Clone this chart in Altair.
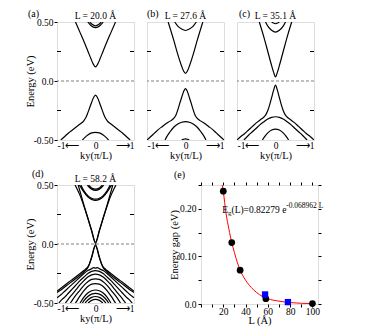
import altair as alt
import pandas as pd

SERIF = "Liberation Serif"

# ---------------- band-structure data (ky in pi/L, E in eV) ----------------
# (a) L = 20.0 A
A_CB1 = [(-0.52, 0.50), (-0.4, 0.41), (-0.3, 0.335), (-0.2, 0.255), (-0.12, 0.19), (-0.06, 0.145), (0.0, 0.12),
         (0.06, 0.145), (0.12, 0.19), (0.2, 0.255), (0.3, 0.335), (0.4, 0.41), (0.52, 0.50)]
A_CB2 = [(-0.2, 0.50), (-0.12, 0.47), (0.0, 0.452), (0.12, 0.47), (0.2, 0.50)]
A_CB3 = [(-0.15, 0.50), (-0.08, 0.478), (0.0, 0.468), (0.08, 0.478), (0.15, 0.50)]
A_VB1 = [(-0.9, -0.5), (-0.8, -0.47), (-0.7, -0.44), (-0.6, -0.415), (-0.5, -0.39), (-0.4, -0.365), (-0.3, -0.335),
         (-0.25, -0.31), (-0.2, -0.27), (-0.15, -0.225), (-0.1, -0.18), (-0.05, -0.14), (0.0, -0.12),
         (0.05, -0.14), (0.1, -0.18), (0.15, -0.225), (0.2, -0.27), (0.25, -0.31), (0.3, -0.335), (0.4, -0.365),
         (0.5, -0.39), (0.6, -0.415), (0.7, -0.44), (0.8, -0.47), (0.9, -0.5)]
A_VB2 = [(-0.34, -0.5), (-0.28, -0.48), (-0.2, -0.458), (-0.1, -0.44), (0.0, -0.435), (0.1, -0.44), (0.2, -0.458),
         (0.28, -0.48), (0.34, -0.5)]

# (b) L = 27.6 A
B_CB1 = [(-0.45, 0.50), (-0.3, 0.34), (-0.2, 0.225), (-0.1, 0.125), (-0.05, 0.085), (0.0, 0.065),
         (0.05, 0.085), (0.1, 0.125), (0.2, 0.225), (0.3, 0.34), (0.45, 0.50)]
B_CB2 = [(-0.28, 0.50), (-0.2, 0.465), (-0.1, 0.44), (0.0, 0.428), (0.1, 0.44), (0.2, 0.465), (0.28, 0.50)]
B_VB1 = [(-1.0, -0.5), (-0.9, -0.47), (-0.8, -0.44), (-0.7, -0.41), (-0.6, -0.385), (-0.5, -0.36), (-0.4, -0.34),
         (-0.3, -0.315), (-0.25, -0.29), (-0.2, -0.245), (-0.15, -0.19), (-0.1, -0.14), (-0.05, -0.09), (0.0, -0.065),
         (0.05, -0.09), (0.1, -0.14), (0.15, -0.19), (0.2, -0.245), (0.25, -0.29), (0.3, -0.315), (0.4, -0.34),
         (0.5, -0.36), (0.6, -0.385), (0.7, -0.41), (0.8, -0.44), (0.9, -0.47), (1.0, -0.5)]
B_VB2 = [(-0.53, -0.5), (-0.5, -0.48), (-0.4, -0.43), (-0.3, -0.39), (-0.2, -0.365), (-0.1, -0.35), (0.0, -0.345),
         (0.1, -0.35), (0.2, -0.365), (0.3, -0.39), (0.4, -0.43), (0.5, -0.48), (0.53, -0.5)]
B_VB3 = [(-0.1, -0.5), (-0.06, -0.495), (0.0, -0.49), (0.06, -0.495), (0.1, -0.5)]

# (c) L = 35.1 A
C_CB1 = [(-0.42, 0.50), (-0.3, 0.37), (-0.2, 0.25), (-0.1, 0.13), (-0.05, 0.075), (0.0, 0.035),
         (0.05, 0.075), (0.1, 0.13), (0.2, 0.25), (0.3, 0.37), (0.42, 0.50)]
C_CB2 = [(-0.26, 0.50), (-0.2, 0.465), (-0.1, 0.43), (0.0, 0.415), (0.1, 0.43), (0.2, 0.465), (0.26, 0.50)]
C_CB3 = [(-0.1, 0.50), (-0.06, 0.492), (0.0, 0.485), (0.06, 0.492), (0.1, 0.50)]
C_VB1 = [(-1.0, -0.5), (-0.9, -0.47), (-0.8, -0.445), (-0.7, -0.415), (-0.6, -0.385), (-0.5, -0.355), (-0.4, -0.33),
         (-0.3, -0.305), (-0.25, -0.285), (-0.2, -0.25), (-0.15, -0.2), (-0.1, -0.14), (-0.05, -0.08), (0.0, -0.035),
         (0.05, -0.08), (0.1, -0.14), (0.15, -0.2), (0.2, -0.25), (0.25, -0.285), (0.3, -0.305), (0.4, -0.33),
         (0.5, -0.355), (0.6, -0.385), (0.7, -0.415), (0.8, -0.445), (0.9, -0.47), (1.0, -0.5)]
C_VB2 = [(-0.82, -0.5), (-0.7, -0.46), (-0.6, -0.43), (-0.5, -0.4), (-0.4, -0.37), (-0.3, -0.345), (-0.2, -0.322),
         (-0.1, -0.308), (0.0, -0.303), (0.1, -0.308), (0.2, -0.322), (0.3, -0.345), (0.4, -0.37), (0.5, -0.4),
         (0.6, -0.43), (0.7, -0.46), (0.82, -0.5)]
C_VB3 = [(-0.34, -0.5), (-0.3, -0.48), (-0.2, -0.44), (-0.1, -0.415), (0.0, -0.407), (0.1, -0.415), (0.2, -0.44),
         (0.3, -0.48), (0.34, -0.5)]

# (d) L = 58.2 A
D_CB1 = [(-0.45, 0.50), (-0.3, 0.33), (-0.2, 0.22), (-0.1, 0.11), (0.0, 0.005), (0.1, 0.11), (0.2, 0.22),
         (0.3, 0.33), (0.45, 0.50)]
D_CB1B = [(-0.53, 0.50), (-0.5, 0.48), (-0.4, 0.41), (-0.3, 0.32), (-0.2, 0.22), (-0.1, 0.115), (0.0, 0.015),
          (0.1, 0.115), (0.2, 0.22), (0.3, 0.32), (0.4, 0.41), (0.5, 0.48), (0.53, 0.50)]
D_CB2 = [(-0.42, 0.50), (-0.4, 0.49), (-0.3, 0.44), (-0.2, 0.40), (-0.1, 0.378), (0.0, 0.37), (0.1, 0.378),
         (0.2, 0.40), (0.3, 0.44), (0.4, 0.49), (0.42, 0.50)]
D_CB2B = [(-0.38, 0.50), (-0.3, 0.45), (-0.2, 0.41), (-0.1, 0.388), (0.0, 0.38), (0.1, 0.388), (0.2, 0.41),
          (0.3, 0.45), (0.38, 0.50)]
D_CB3 = [(-0.21, 0.50), (-0.2, 0.495), (-0.1, 0.465), (0.0, 0.455), (0.1, 0.465), (0.2, 0.495), (0.21, 0.50)]
D_CB3B = [(-0.18, 0.50), (-0.1, 0.475), (0.0, 0.465), (0.1, 0.475), (0.18, 0.50)]
D_VB1 = [(-1.0, -0.4), (-0.9, -0.375), (-0.8, -0.35), (-0.7, -0.325), (-0.6, -0.3), (-0.5, -0.275), (-0.4, -0.25),
         (-0.3, -0.225), (-0.25, -0.21), (-0.2, -0.195), (-0.15, -0.16), (-0.1, -0.11), (0.0, -0.005),
         (0.1, -0.11), (0.15, -0.16), (0.2, -0.195), (0.25, -0.21), (0.3, -0.225), (0.4, -0.25), (0.5, -0.275),
         (0.6, -0.3), (0.7, -0.325), (0.8, -0.35), (0.9, -0.375), (1.0, -0.4)]
D_VB1B = [(-1.0, -0.41), (-0.9, -0.39), (-0.8, -0.365), (-0.7, -0.34), (-0.6, -0.315), (-0.5, -0.29), (-0.4, -0.265),
          (-0.3, -0.235), (-0.2, -0.2), (-0.15, -0.165), (-0.1, -0.115), (0.0, -0.015), (0.1, -0.115),
          (0.15, -0.165), (0.2, -0.2), (0.3, -0.235), (0.4, -0.265), (0.5, -0.29), (0.6, -0.315), (0.7, -0.34),
          (0.8, -0.365), (0.9, -0.39), (1.0, -0.41)]
D_VB2 = [(-1.0, -0.455), (-0.9, -0.43), (-0.8, -0.4), (-0.7, -0.37), (-0.6, -0.34), (-0.5, -0.31), (-0.4, -0.28),
         (-0.3, -0.25), (-0.2, -0.225), (-0.1, -0.21), (-0.05, -0.2), (0.0, -0.205), (0.05, -0.2), (0.1, -0.21),
         (0.2, -0.225), (0.3, -0.25), (0.4, -0.28), (0.5, -0.31), (0.6, -0.34), (0.7, -0.37), (0.8, -0.4),
         (0.9, -0.43), (1.0, -0.455)]
D_VB3 = [(-0.95, -0.5), (-0.9, -0.48), (-0.8, -0.45), (-0.7, -0.415), (-0.6, -0.38), (-0.5, -0.345), (-0.4, -0.31),
         (-0.3, -0.28), (-0.2, -0.25), (-0.1, -0.232), (0.0, -0.225), (0.1, -0.232), (0.2, -0.25), (0.3, -0.28),
         (0.4, -0.31), (0.5, -0.345), (0.6, -0.38), (0.7, -0.415), (0.8, -0.45), (0.9, -0.48), (0.95, -0.5)]
D_VB4 = [(-0.78, -0.5), (-0.7, -0.465), (-0.6, -0.425), (-0.5, -0.385), (-0.4, -0.345), (-0.3, -0.31), (-0.2, -0.28),
         (-0.1, -0.262), (0.0, -0.255), (0.1, -0.262), (0.2, -0.28), (0.3, -0.31), (0.4, -0.345), (0.5, -0.385),
         (0.6, -0.425), (0.7, -0.465), (0.78, -0.5)]
D_VB5 = [(-0.65, -0.5), (-0.6, -0.475), (-0.5, -0.43), (-0.4, -0.39), (-0.3, -0.35), (-0.2, -0.32), (-0.1, -0.30),
         (0.0, -0.295), (0.1, -0.30), (0.2, -0.32), (0.3, -0.35), (0.4, -0.39), (0.5, -0.43), (0.6, -0.475),
         (0.65, -0.5)]
D_VB6 = [(-0.52, -0.5), (-0.5, -0.49), (-0.4, -0.44), (-0.3, -0.395), (-0.2, -0.36), (-0.1, -0.34), (0.0, -0.335),
         (0.1, -0.34), (0.2, -0.36), (0.3, -0.395), (0.4, -0.44), (0.5, -0.49), (0.52, -0.5)]
D_VB7 = [(-0.4, -0.5), (-0.3, -0.45), (-0.2, -0.415), (-0.1, -0.396), (0.0, -0.39), (0.1, -0.396), (0.2, -0.415),
         (0.3, -0.45), (0.4, -0.5)]
D_VB8 = [(-0.34, -0.5), (-0.3, -0.48), (-0.2, -0.445), (-0.1, -0.425), (0.0, -0.418), (0.1, -0.425), (0.2, -0.445),
         (0.3, -0.48), (0.34, -0.5)]
D_VB9 = [(-0.27, -0.5), (-0.2, -0.475), (-0.1, -0.452), (0.0, -0.445), (0.1, -0.452), (0.2, -0.475), (0.27, -0.5)]
D_VB10 = [(-0.19, -0.5), (-0.1, -0.478), (0.0, -0.47), (0.1, -0.478), (0.19, -0.5)]

PANEL_TITLES = ["L = 20.0 Å", "L = 27.6 Å", "L = 35.1 Å", "L = 58.2 Å"]
PANEL_TAGS = ["(a)", "(b)", "(c)", "(d)", "(e)"]
E_MAJOR = [-0.5, 0.0, 0.5]
E_MINOR = [-0.25, 0.25]
KY_TICKS = [-1, 0, 1]

# ---------------- energy gap data (panel e) ----------------
L_CIRC = [20.0, 27.6, 35.1, 58.2, 100.0]
EG_CIRC = [0.237, 0.129, 0.071, 0.011, 0.001]
L_SQ = [57.5, 78.0]
EG_SQ = [0.020, 0.004]
L_FIT = [19.0, 20.0, 22.5, 25.0, 27.6, 30.0, 32.5, 35.0, 40.0, 45.0, 50.0, 55.0, 60.0, 70.0, 80.0, 90.0, 100.0]
EG_FIT = [0.25, 0.236, 0.19, 0.158, 0.129, 0.108, 0.088, 0.072, 0.05, 0.035, 0.024, 0.016, 0.011, 0.006, 0.003,
          0.0015, 0.0008]
GAP_TICKS = [0.0, 0.05, 0.10, 0.15, 0.20, 0.25]
L_TICKS = [0, 10, 20, 30, 40, 50, 60, 70, 80, 90, 100]

W, H = 77, 118
WE, HE = 117, 119

LABEL_FS = 9.5
TITLE_FS = 10.5


def band_panel(curves, title, tag, tag_dx, tag_dy, left_axis):
    rows = []
    for name, pts in curves.items():
        for k, e in pts:
            rows.append({"ky": k, "E": e, "curve": name})
    df = pd.DataFrame(rows)
    xs = alt.Scale(domain=[-1, 1], nice=False, zero=False)
    ys = alt.Scale(domain=[-0.5, 0.5], nice=False, zero=False)
    if left_axis:
        yax = alt.Axis(values=E_MAJOR, title="Energy (eV)", tickSize=3, tickColor="black",
                       labelExpr="datum.value == 0.5 ? '0.50' : datum.value == 0 ? '0.0' : '-0.50'",
                       labelPadding=1, titlePadding=-2, domain=False, grid=False,
                       labelFontSize=LABEL_FS, titleFontSize=TITLE_FS, labelFont=SERIF, titleFont=SERIF,
                       titleFontWeight="normal", labelColor="black", titleColor="black")
    else:
        yax = None
    xax = alt.Axis(values=KY_TICKS, title="ky(π/L)", ticks=False, domain=False, grid=False, labelFlush=True,
                   labelExpr="datum.value == -1 ? '-1⟵' : datum.value == 1 ? '⟶1' : '0'",
                   labelPadding=0, titlePadding=1, labelFontSize=LABEL_FS, titleFontSize=TITLE_FS,
                   labelFont=SERIF, titleFont=SERIF, titleFontWeight="normal", labelColor="black",
                   titleColor="black")
    lines = alt.Chart(df).mark_line(color="black", strokeWidth=1.2, interpolate="monotone", clip=True).encode(
        x=alt.X("ky:Q", scale=xs, axis=xax),
        y=alt.Y("E:Q", scale=ys, axis=yax),
        detail="curve:N",
    )
    zero = alt.Chart(pd.DataFrame({"E": [0.0]})).mark_rule(color="#808080", strokeDash=[3, 2],
                                                          strokeWidth=1).encode(
        y=alt.Y("E:Q", scale=ys, axis=yax))
    minor = pd.DataFrame({"E": E_MINOR})
    tl = alt.Chart(minor).mark_rule(color="black", strokeWidth=1).encode(
        y=alt.Y("E:Q", scale=ys, axis=yax), x=alt.value(0), x2=alt.value(4))
    tr = alt.Chart(minor).mark_rule(color="black", strokeWidth=1).encode(
        y=alt.Y("E:Q", scale=ys, axis=yax), x=alt.value(W - 4), x2=alt.value(W))
    lab = alt.Chart(pd.DataFrame({"t": [tag]})).mark_text(
        align="left", baseline="top", font=SERIF, fontSize=10, color="black").encode(
        text="t:N", x=alt.value(tag_dx), y=alt.value(tag_dy))
    ttl = alt.Chart(pd.DataFrame({"t": [title]})).mark_text(
        align="center", baseline="alphabetic", font=SERIF, fontSize=LABEL_FS, color="black").encode(
        text="t:N", x=alt.value(W / 2), y=alt.value(-3))
    return alt.layer(zero, lines, tl, tr, lab, ttl).properties(width=W, height=H)


pa = band_panel({"cb1": A_CB1, "cb2": A_CB2, "cb3": A_CB3, "vb1": A_VB1, "vb2": A_VB2},
                PANEL_TITLES[0], PANEL_TAGS[0], -29, -13, True)
pb = band_panel({"cb1": B_CB1, "cb2": B_CB2, "vb1": B_VB1, "vb2": B_VB2, "vb3": B_VB3},
                PANEL_TITLES[1], PANEL_TAGS[1], 0, -13, False)
pc = band_panel({"cb1": C_CB1, "cb2": C_CB2, "cb3": C_CB3, "vb1": C_VB1, "vb2": C_VB2, "vb3": C_VB3},
                PANEL_TITLES[2], PANEL_TAGS[2], 2, -13, False)
pd_ = band_panel({"cb1": D_CB1, "cb1b": D_CB1B, "cb2": D_CB2, "cb2b": D_CB2B, "cb3": D_CB3, "cb3b": D_CB3B,
                  "vb1": D_VB1, "vb1b": D_VB1B, "vb2": D_VB2, "vb3": D_VB3, "vb4": D_VB4, "vb5": D_VB5,
                  "vb6": D_VB6, "vb7": D_VB7, "vb8": D_VB8, "vb9": D_VB9, "vb10": D_VB10},
                 PANEL_TITLES[3], PANEL_TAGS[3], -25, -16, True)

# ---------------- panel (e) ----------------
xs_e = alt.Scale(domain=[0, 105], nice=False, zero=False)
ys_e = alt.Scale(domain=[0, 0.25], nice=False, zero=False)
ax_common = dict(labelFontSize=LABEL_FS, titleFontSize=TITLE_FS, labelFont=SERIF, titleFont=SERIF,
                 titleFontWeight="normal", labelColor="black", titleColor="black", grid=False, domain=False,
                 tickColor="black", tickSize=3)

fit_df = pd.DataFrame({"L": L_FIT, "Eg": EG_FIT})
circ_df = pd.DataFrame({"L": L_CIRC, "Eg": EG_CIRC})
sq_df = pd.DataFrame({"L": L_SQ, "Eg": EG_SQ})

fit = alt.Chart(fit_df).mark_line(color="#ff0000", strokeWidth=1, clip=True, interpolate="monotone").encode(
    x=alt.X("L:Q", scale=xs_e, axis=alt.Axis(orient="top", values=L_TICKS, labels=False, title=None, **ax_common)),
    y=alt.Y("Eg:Q", scale=ys_e,
            axis=alt.Axis(orient="right", values=GAP_TICKS, labels=False, title=None, **ax_common)),
)
circ = alt.Chart(circ_df).mark_point(shape="circle", filled=True, color="black", size=45, opacity=1).encode(
    x=alt.X("L:Q", scale=xs_e, axis=alt.Axis(orient="bottom", values=L_TICKS, title="L (Å)",
                                             labelExpr="datum.value > 0 && datum.value % 20 == 0 ? datum.value : ''",
                                             labelPadding=-1, titlePadding=0, **ax_common)),
    y=alt.Y("Eg:Q", scale=ys_e, axis=alt.Axis(orient="left", values=GAP_TICKS, title="Energy gap (eV)",
                                              labelExpr="datum.value == 0 ? '0.0' : datum.value == 0.1 ? '0.10' : datum.value == 0.2 ? '0.20' : ''",
                                              labelPadding=2, titlePadding=0, **ax_common)),
)
sq = alt.Chart(sq_df).mark_point(shape="square", filled=True, color="#0000ff", size=40, opacity=1).encode(
    x=alt.X("L:Q", scale=xs_e, axis=None), y=alt.Y("Eg:Q", scale=ys_e, axis=None))

ann_df = pd.DataFrame({"L": [19.0], "Eg": [0.192]})


def ann(text, dx, dy, fs):
    return alt.Chart(ann_df).mark_text(align="left", baseline="alphabetic", font=SERIF, fontSize=fs,
                                       color="black", dx=dx, dy=dy).encode(
        x=alt.X("L:Q", scale=xs_e, axis=None), y=alt.Y("Eg:Q", scale=ys_e, axis=None),
        text=alt.value(text))


tag_e = alt.Chart(pd.DataFrame({"t": [PANEL_TAGS[4]]})).mark_text(
    align="left", baseline="top", font=SERIF, fontSize=10, color="black").encode(
    text="t:N", x=alt.value(-27), y=alt.value(-15))

pe = alt.layer(fit, circ, sq, ann("E", 0, 0, LABEL_FS), ann("g", 5.8, 2.5, 7),
               ann("(L)=0.82279 e", 9.3, 0, LABEL_FS), ann("-0.068962 L", 64, -5, 7.5),
               tag_e).resolve_axis(x="independent", y="independent").properties(width=WE, height=HE)

top = alt.hconcat(pa, pb, pc, spacing=11)
bottom = alt.hconcat(pd_, pe, spacing=33)
chart = alt.vconcat(top, bottom, spacing=6).properties(
    padding={"left": 16, "top": 0, "right": 0, "bottom": 0}
).configure_view(stroke="black", strokeWidth=1).configure(font=SERIF)

chart.save("out.html", embed_options={"renderer": "svg", "actions": False})
